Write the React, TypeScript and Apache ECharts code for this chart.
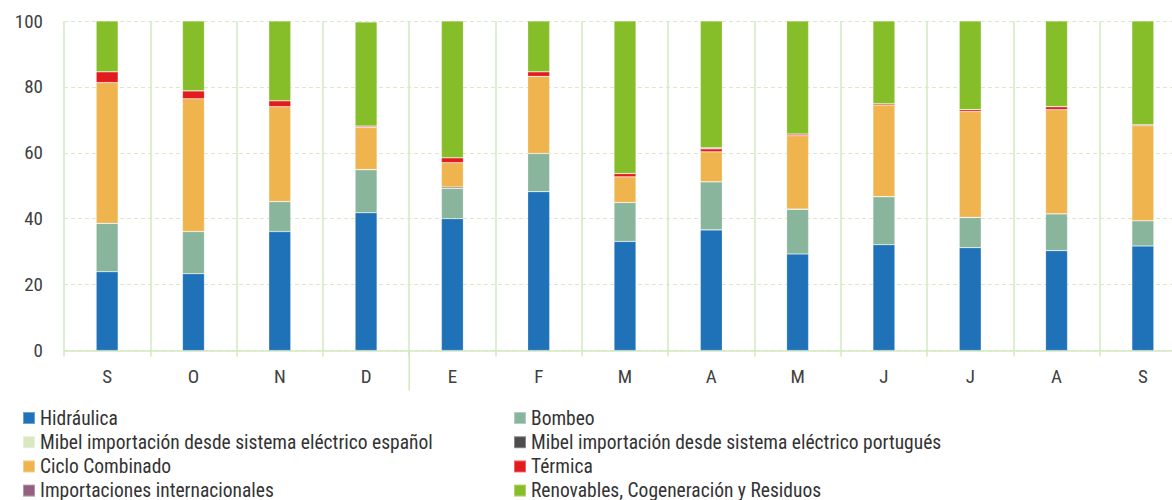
import React, { useEffect, useRef } from "react";
import * as echarts from "echarts";

const months = ["S", "O", "N", "D", "E", "F", "M", "A", "M", "J", "J", "A", "S"];
const yTicks = [0, 20, 40, 60, 80, 100];

const hidraulica = [23.9, 23.3, 36.1, 41.8, 40.0, 48.2, 33.1, 36.6, 29.3, 32.1, 31.2, 30.3, 31.7];
const bombeo = [14.7, 12.8, 9.1, 13.1, 9.2, 11.6, 11.8, 14.6, 13.6, 14.6, 9.2, 11.2, 7.7];
const mibelEsp = [0, 0, 0, 0, 0, 0, 0, 0, 0, 0, 0, 0, 0];
const mibelPort = [0, 0, 0, 0, 0.4, 0, 0, 0, 0, 0, 0, 0, 0];
const cicloCombinado = [42.7, 40.3, 28.8, 12.8, 7.4, 23.4, 7.8, 9.1, 22.3, 27.8, 32.1, 31.6, 28.8];
const termica = [3.3, 2.4, 1.8, 0.4, 1.5, 1.4, 1.0, 0.9, 0.5, 0.4, 0.6, 0.9, 0.3];
const importaciones = [0, 0, 0, 0, 0, 0, 0, 0.3, 0, 0, 0, 0, 0];
const renovables = [15.4, 21.2, 24.2, 31.6, 41.5, 15.4, 46.3, 38.5, 34.3, 25.1, 26.9, 26.0, 31.5];

const seriesDefs = [
  { name: "Hidráulica", data: hidraulica, color: "#1f71b8" },
  { name: "Bombeo", data: bombeo, color: "#89b59c" },
  { name: "Mibel importación desde sistema eléctrico español", data: mibelEsp, color: "#d9e8c1" },
  { name: "Mibel importación desde sistema eléctrico portugués", data: mibelPort, color: "#4d4d4d" },
  { name: "Ciclo Combinado", data: cicloCombinado, color: "#efb44e" },
  { name: "Térmica", data: termica, color: "#e31a1e" },
  { name: "Importaciones internacionales", data: importaciones, color: "#93607f" },
  { name: "Renovables, Cogeneración y Residuos", data: renovables, color: "#86be29" },
];

// index of the first month of the new year (separator drawn at its left boundary)
const yearStartIndex = 4;

const FONT = "'Liberation Sans Narrow', 'Roboto Condensed', 'DejaVu Sans Condensed', sans-serif";
const GRID_GREEN = "#d3e8c0";

export default function App() {
  const ref = useRef<HTMLDivElement>(null);
  useEffect(() => {
    if (!ref.current) return;
    const chart = echarts.init(ref.current, undefined, { renderer: "svg" });
    // two-column legend: one legend per entry, laid out in reading order
    const legends = seriesDefs.map((s, i) => ({
      orient: "horizontal" as const,
      left: i % 2 === 0 ? 22 : 513,
      top: 408 + Math.floor(i / 2) * 24.2,
      padding: 0,
      itemWidth: 12,
      itemHeight: 12,
      icon: "rect",
      selectedMode: false,
      data: [s.name],
      textStyle: { fontFamily: FONT, fontSize: 19.5, color: "#333333", lineHeight: 20 },
    }));
    chart.setOption({
      animation: false,
      textStyle: { fontFamily: FONT },
      grid: { left: 64, right: 0, top: 21, bottom: 149.5, containLabel: false },
      legend: legends,
      xAxis: {
        type: "category",
        data: months,
        boundaryGap: true,
        axisLine: { show: true, lineStyle: { color: GRID_GREEN, width: 1.5 } },
        axisTick: { show: true, length: 6, lineStyle: { color: GRID_GREEN, width: 1.5 } },
        axisLabel: { fontFamily: FONT, fontSize: 19, color: "#404040", margin: 16 },
        splitLine: { show: true, lineStyle: { color: GRID_GREEN, width: 1.5 } },
      },
      yAxis: {
        type: "value",
        min: yTicks[0],
        max: yTicks[yTicks.length - 1],
        interval: 20,
        axisLine: { show: false },
        axisTick: { show: false },
        axisLabel: { fontFamily: FONT, fontSize: 19, color: "#404040", margin: 21 },
        splitLine: { show: true, lineStyle: { color: "#d8ebc8", type: [4, 3], width: 1 } },
      },
      series: seriesDefs.map((s) => ({
        name: s.name,
        type: "bar",
        stack: "total",
        barWidth: 22,
        data: s.data,
        itemStyle: { color: s.color, borderColor: "rgba(255,255,255,0.35)", borderWidth: 0.6 },
        emphasis: { disabled: true },
      })),
    });
    // year separator: boundary between the two months, positioned by the axis scale
    const a = chart.convertToPixel({ xAxisIndex: 0 }, yearStartIndex - 1) as number;
    const b = chart.convertToPixel({ xAxisIndex: 0 }, yearStartIndex) as number;
    const y0 = chart.convertToPixel({ yAxisIndex: 0 }, 0) as number;
    const xs = (a + b) / 2;
    chart.setOption({
      graphic: [
        {
          type: "line",
          shape: { x1: xs, y1: y0, x2: xs, y2: y0 + 40 },
          style: { stroke: GRID_GREEN, lineWidth: 1.5 },
          silent: true,
        },
      ],
    });
    return () => chart.dispose();
  }, []);
  return (
    <div style={{ position: "absolute", left: 0, top: 0, width: 1172, height: 500, overflow: "hidden", background: "#ffffff" }}>
      <div ref={ref} style={{ width: 1186, height: 500 }} />
    </div>
  );
}
